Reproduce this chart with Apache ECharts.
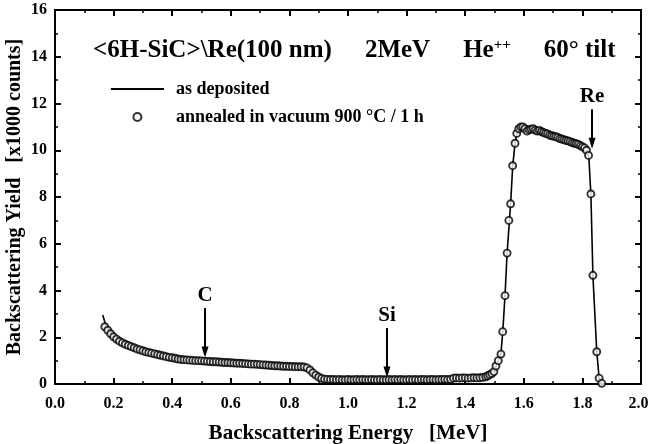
<!DOCTYPE html>
<html>
<head>
<meta charset="utf-8">
<script src="https://cdn.jsdelivr.net/npm/echarts@6/dist/echarts.min.js"></script>
<style>
  html, body { margin: 0; padding: 0; background: #fff; }
  #chart { width: 649px; height: 444px; }
</style>
</head>
<body>
<div id="chart"></div>
<script>
// RBS spectra of <6H-SiC>\Re(100 nm), 2 MeV He++, 60° tilt

// annealed in vacuum 900 °C / 1 h  (energy in MeV, yield in x1000 counts)
const annealedEnergy = [
  0.17, 0.18, 0.19, 0.20, 0.21, 0.22, 0.23, 0.24, 0.25, 0.26,
  0.27, 0.28, 0.29, 0.30, 0.31, 0.32, 0.33, 0.34, 0.35, 0.36,
  0.37, 0.38, 0.39, 0.40, 0.41, 0.42, 0.43, 0.44, 0.45, 0.46,
  0.47, 0.48, 0.49, 0.50, 0.51, 0.52, 0.53, 0.54, 0.55, 0.56,
  0.57, 0.58, 0.59, 0.60, 0.61, 0.62, 0.63, 0.64, 0.65, 0.66,
  0.67, 0.68, 0.69, 0.70, 0.71, 0.72, 0.73, 0.74, 0.75, 0.76,
  0.77, 0.78, 0.79, 0.80, 0.81, 0.82, 0.83, 0.84, 0.85, 0.86,
  0.87, 0.88, 0.89, 0.90, 0.91, 0.92, 0.93, 0.94, 0.95, 0.96,
  0.97, 0.98, 0.99, 1.00, 1.01, 1.02, 1.03, 1.04, 1.05, 1.06,
  1.07, 1.08, 1.09, 1.10, 1.11, 1.12, 1.13, 1.14, 1.15, 1.16,
  1.17, 1.18, 1.19, 1.20, 1.21, 1.22, 1.23, 1.24, 1.25, 1.26,
  1.27, 1.28, 1.29, 1.30, 1.31, 1.32, 1.33, 1.34, 1.35, 1.36,
  1.37, 1.38, 1.39, 1.40, 1.41, 1.42, 1.43, 1.44, 1.45, 1.46,
  1.47, 1.477, 1.484, 1.491, 1.498, 1.505, 1.513, 1.522, 1.528, 1.536,
  1.543, 1.549, 1.555, 1.562, 1.570, 1.576, 1.583, 1.590, 1.597, 1.604,
  1.611, 1.618, 1.625, 1.632, 1.639, 1.646, 1.653, 1.660, 1.667, 1.674,
  1.681, 1.688, 1.695, 1.702, 1.709, 1.716, 1.723, 1.730, 1.737, 1.744,
  1.751, 1.758, 1.765, 1.772, 1.779, 1.786, 1.793, 1.800, 1.807, 1.814,
  1.821, 1.829, 1.836, 1.849, 1.857, 1.866
];
const annealedYield = [
  2.45, 2.30, 2.15, 2.02, 1.92, 1.83, 1.76, 1.70, 1.65, 1.60,
  1.55, 1.50, 1.46, 1.42, 1.38, 1.35, 1.32, 1.29, 1.26, 1.23,
  1.20, 1.17, 1.14, 1.12, 1.10, 1.07, 1.05, 1.04, 1.03, 1.02,
  1.01, 1.00, 1.00, 0.99, 0.98, 0.97, 0.96, 0.95, 0.95, 0.94,
  0.93, 0.92, 0.92, 0.91, 0.90, 0.89, 0.89, 0.88, 0.87, 0.86,
  0.85, 0.85, 0.84, 0.83, 0.82, 0.81, 0.80, 0.79, 0.78, 0.78,
  0.77, 0.76, 0.76, 0.75, 0.75, 0.74, 0.74, 0.74, 0.73, 0.69,
  0.60, 0.48, 0.38, 0.30, 0.24, 0.21, 0.20, 0.19, 0.19, 0.18,
  0.19, 0.18, 0.18, 0.19, 0.18, 0.18, 0.19, 0.18, 0.19, 0.18,
  0.18, 0.19, 0.18, 0.18, 0.19, 0.18, 0.18, 0.19, 0.18, 0.19,
  0.18, 0.19, 0.18, 0.18, 0.19, 0.18, 0.19, 0.18, 0.19, 0.19,
  0.18, 0.19, 0.19, 0.18, 0.19, 0.19, 0.20, 0.19, 0.20, 0.25,
  0.26, 0.25, 0.26, 0.26, 0.25, 0.26, 0.27, 0.26, 0.27, 0.28,
  0.31, 0.35, 0.40, 0.45, 0.53, 0.77, 1.00, 1.28, 2.24, 3.78,
  5.60, 7.00, 7.71, 9.34, 10.30, 10.72, 10.92, 11.00, 11.00, 10.92,
  10.82, 10.88, 10.90, 10.92, 10.86, 10.82, 10.85, 10.80, 10.76, 10.72,
  10.70, 10.65, 10.62, 10.60, 10.58, 10.55, 10.50, 10.48, 10.45, 10.42,
  10.40, 10.37, 10.33, 10.30, 10.28, 10.25, 10.20, 10.15, 10.10, 10.00,
  9.78, 8.13, 4.65, 1.38, 0.25, 0.03
];

// as deposited
const depositedEnergy = [
  0.163, 0.17, 0.18, 0.19, 0.20, 0.22, 0.24, 0.26, 0.28, 0.30,
  0.33, 0.36, 0.40, 0.45, 0.50, 0.55, 0.60, 0.65, 0.70, 0.75,
  0.80, 0.84, 0.86, 0.88, 0.90, 0.92, 0.95, 1.00, 1.10, 1.20,
  1.30, 1.36, 1.40, 1.45, 1.47, 1.49, 1.498, 1.505, 1.513, 1.522,
  1.528, 1.536, 1.543, 1.555, 1.562, 1.570, 1.578, 1.590, 1.60, 1.62,
  1.65, 1.70, 1.75, 1.80, 1.815, 1.822, 1.829, 1.836, 1.849, 1.857,
  1.866
];
const depositedYield = [
  2.95, 2.65, 2.40, 2.22, 2.06, 1.86, 1.72, 1.62, 1.52, 1.44,
  1.34, 1.24, 1.12, 1.03, 0.99, 0.95, 0.91, 0.87, 0.83, 0.79,
  0.76, 0.74, 0.70, 0.48, 0.30, 0.21, 0.19, 0.18, 0.18, 0.18,
  0.19, 0.24, 0.26, 0.27, 0.31, 0.42, 0.52, 0.75, 1.00, 1.30,
  2.20, 3.80, 5.60, 7.70, 9.30, 10.30, 10.80, 10.95, 10.92, 10.88,
  10.82, 10.68, 10.50, 10.20, 10.00, 9.70, 8.10, 4.60, 1.40, 0.25,
  0.03
];

// edge markers: label, energy, arrow top, arrow tip
const edgeLabels = ['C', 'Si', 'Re'];
const edgeEnergy = [0.512, 1.133, 1.833];
const edgeArrowTop = [3.25, 2.40, 11.75];
const edgeArrowTip = [1.37, 0.51, 10.30];

const xTicks = { min: 0, max: 2, interval: 0.2 };
const yTicks = { min: 0, max: 16, interval: 2 };

const SERIF = '"Liberation Serif", "Times New Roman", serif';

function pairs(xs, ys) { return xs.map((x, i) => [x, ys[i]]); }

const chart = echarts.init(document.getElementById('chart'), null, { renderer: 'canvas' });

const axisCommon = {
  type: 'value',
  axisLine: { show: true, onZero: false, lineStyle: { color: '#000', width: 2 } },
  axisTick: { show: true, inside: true, length: 6, lineStyle: { color: '#000', width: 2 } },
  minorTick: { show: true, splitNumber: 2, length: 3, lineStyle: { color: '#000', width: 1.5 } },
  splitLine: { show: false },
  minorSplitLine: { show: false }
};
const labelStyle = { color: '#000', fontFamily: SERIF, fontWeight: 'bold', fontSize: 16 };

const option = {
  backgroundColor: '#fff',
  animation: false,
  grid: { left: 55, right: 8, top: 10, bottom: 60, containLabel: false, outerBoundsMode: 'none' },
  title: {
    left: 88, top: 33,
    text: '{t|<6H-SiC>\\Re(100 nm)}{g|}{t|2MeV}{g|}{t|He}{s|++}{g|}{t|60° tilt}',
    textStyle: {
      rich: {
        t: { fontFamily: SERIF, fontWeight: 'bold', fontSize: 25, color: '#000' },
        s: { fontFamily: SERIF, fontWeight: 'bold', fontSize: 15, color: '#000', padding: [0, 0, 10, 0] },
        g: { width: 33 }
      }
    }
  },
  legend: {
    left: 105, top: 75, orient: 'vertical',
    itemWidth: 53, itemHeight: 8, itemGap: 10,
    textStyle: { color: '#000', fontFamily: SERIF, fontWeight: 'bold', fontSize: 18, padding: [0, 0, 0, 7] },
    data: [
      { name: 'as deposited', itemStyle: { opacity: 0 }, lineStyle: { color: '#000', width: 1.8 } },
      { name: 'annealed in vacuum 900 °C / 1 h', icon: 'circle' }
    ]
  },
  xAxis: [
    Object.assign({}, axisCommon, {
      position: 'bottom', min: xTicks.min, max: xTicks.max, interval: xTicks.interval,
      axisLabel: Object.assign({}, labelStyle, {
        margin: 12,
        formatter: v => (v === xTicks.max ? '{r|' + v.toFixed(1) + '}' : v.toFixed(1)),
        rich: { r: { color: '#000', fontFamily: SERIF, fontWeight: 'bold', fontSize: 16, padding: [0, 5, 0, 0] } }
      }),
      name: 'Backscattering Energy   [MeV]', nameLocation: 'middle', nameGap: 39, nameMoveOverlap: false,
      nameTextStyle: { color: '#000', fontFamily: SERIF, fontWeight: 'bold', fontSize: 21 }
    }),
    Object.assign({}, axisCommon, {
      position: 'top', min: xTicks.min, max: xTicks.max, interval: xTicks.interval,
      axisLabel: { show: false }
    })
  ],
  yAxis: [
    Object.assign({}, axisCommon, {
      position: 'left', min: yTicks.min, max: yTicks.max, interval: yTicks.interval,
      axisLabel: Object.assign({}, labelStyle, { margin: 8 }),
      name: 'Backscattering Yield   [x1000 counts]', nameLocation: 'middle', nameGap: 30, nameMoveOverlap: false,
      nameTextStyle: { color: '#000', fontFamily: SERIF, fontWeight: 'bold', fontSize: 20 }
    }),
    Object.assign({}, axisCommon, {
      position: 'right', min: yTicks.min, max: yTicks.max, interval: yTicks.interval,
      axisLabel: { show: false }
    })
  ],
  series: [
    {
      name: 'as deposited', type: 'line', xAxisIndex: 0, yAxisIndex: 0,
      data: pairs(depositedEnergy, depositedYield),
      showSymbol: false, symbol: 'none',
      lineStyle: { color: '#000', width: 1.6 },
      itemStyle: { color: '#000' },
      z: 2
    },
    {
      name: 'annealed in vacuum 900 °C / 1 h', type: 'scatter', xAxisIndex: 0, yAxisIndex: 0,
      data: pairs(annealedEnergy, annealedYield),
      symbol: 'circle', symbolSize: 7,
      itemStyle: { color: '#fff', borderColor: '#000', borderWidth: 1.9 },
      z: 3
    },
    {
      name: 'edges', type: 'line', xAxisIndex: 0, yAxisIndex: 0, data: [],
      markLine: {
        silent: true, animation: false,
        symbol: ['none', 'triangle'], symbolSize: [7, 11],
        lineStyle: { color: '#000', width: 2, type: 'solid' },
        label: {
          show: true, position: 'start', distance: 2,
          color: '#000', fontFamily: SERIF, fontWeight: 'bold', fontSize: 21,
          formatter: p => p.name
        },
        data: edgeLabels.map((name, i) => [
          { name: name, coord: [edgeEnergy[i], edgeArrowTop[i]] },
          { coord: [edgeEnergy[i], edgeArrowTip[i]] }
        ])
      },
      z: 4
    }
  ]
};

chart.setOption(option);
</script>
</body>
</html>
